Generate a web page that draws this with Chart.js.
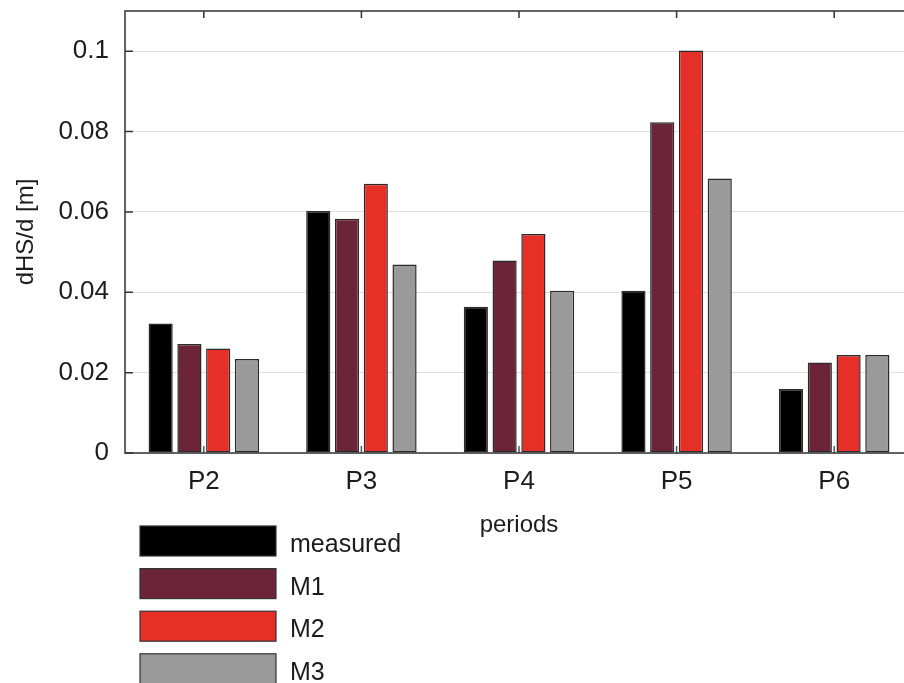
<!DOCTYPE html>
<html>
<head>
<meta charset="utf-8">
<script src="https://cdn.jsdelivr.net/npm/chart.js@4"></script>
<style>
  html, body { margin: 0; padding: 0; background: #fff; overflow: hidden; }
  #wrap { width: 916px; height: 683px; position: relative; }
</style>
</head>
<body>
<div id="wrap"><canvas id="c"></canvas></div>
<script>
const categories = ['P2', 'P3', 'P4', 'P5', 'P6'];
const seriesNames = ['measured', 'M1', 'M2', 'M3'];
const measured = [0.0322, 0.0602, 0.0364, 0.0404, 0.0159];
const m1 = [0.0271, 0.0583, 0.0479, 0.0823, 0.0225];
const m2 = [0.0260, 0.0670, 0.0545, 0.1002, 0.0244];
const m3 = [0.0234, 0.0469, 0.0404, 0.0683, 0.0244];
const yTicks = [0, 0.02, 0.04, 0.06, 0.08, 0.1];
const yTickLabels = ['0', '0.02', '0.04', '0.06', '0.08', '0.1'];
const yTitle = 'dHS/d [m]';
const xTitle = 'periods';

const FONT = 'Liberation Sans, Arial, Helvetica, sans-serif';
const colors = ['#000000', '#6c2538', '#e62f27', '#9a9a9a'];
const values = [measured, m1, m2, m3];

const framePlugin = {
  id: 'frame',
  beforeDatasetsDraw(chart) {
    const {ctx, chartArea: a, scales: {x}} = chart;
    ctx.save();
    ctx.strokeStyle = '#555';
    ctx.lineWidth = 1.5;
    ctx.beginPath();
    categories.forEach((c, i) => {
      const px = x.getPixelForTick(i);
      ctx.moveTo(px, a.bottom);
      ctx.lineTo(px, a.bottom - 7);
    });
    ctx.stroke();
    ctx.restore();
  },
  afterDraw(chart) {
    const {ctx, chartArea: a, scales: {x, y}} = chart;
    ctx.save();
    ctx.strokeStyle = '#333';
    ctx.lineWidth = 1.5;
    ctx.strokeRect(a.left, a.top, a.right - a.left, a.bottom - a.top);
    ctx.beginPath();
    yTicks.forEach(v => {
      const py = y.getPixelForValue(v);
      ctx.moveTo(a.left, py);
      ctx.lineTo(a.left + 8, py);
    });
    categories.forEach((c, i) => {
      const px = x.getPixelForTick(i);
      ctx.moveTo(px, a.top);
      ctx.lineTo(px, a.top + 7);
    });
    ctx.stroke();

    // legend (vertical list, below axis)
    const left = 140, boxW = 136, boxH = 30, step = 42.6;
    const top0 = a.bottom + 73;
    ctx.font = '25px ' + FONT;
    ctx.textBaseline = 'alphabetic';
    ctx.textAlign = 'left';
    chart.data.datasets.forEach((ds, i) => {
      const t = top0 + i * step;
      ctx.fillStyle = ds.backgroundColor;
      ctx.fillRect(left, t, boxW, boxH);
      ctx.strokeStyle = '#333';
      ctx.lineWidth = 1.2;
      ctx.strokeRect(left, t, boxW, boxH);
      ctx.fillStyle = '#1c1c1c';
      ctx.fillText(ds.label, left + 150, t + 26);
    });
    ctx.restore();
  }
};

new Chart(document.getElementById('c'), {
  type: 'bar',
  data: {
    labels: categories,
    datasets: seriesNames.map((n, i) => ({
      label: n,
      data: values[i],
      backgroundColor: colors[i],
      borderColor: '#2a2a2a',
      borderWidth: 1.5,
      borderSkipped: false,
      categoryPercentage: 0.73,
      barPercentage: 0.84
    }))
  },
  options: {
    responsive: true,
    maintainAspectRatio: false,
    animation: false,
    devicePixelRatio: 1,
    layout: { padding: { top: 11, right: 3, bottom: 143, left: 0 } },
    plugins: { legend: { display: false }, tooltip: { enabled: false } },
    scales: {
      x: {
        afterFit(scale) { scale.paddingLeft = 0; scale.paddingRight = 0; },
        grid: { display: false, drawTicks: false },
        border: { display: false },
        ticks: { color: '#1c1c1c', font: { family: FONT, size: 26 }, padding: 13, maxRotation: 0 },
        title: { display: true, text: xTitle, color: '#1c1c1c', font: { family: FONT, size: 24 }, padding: { top: 1, bottom: 0 } }
      },
      y: {
        min: 0,
        max: 0.11,
        afterFit(scale) { scale.width = 125; scale.paddingTop = 0; scale.paddingBottom = 0; },
        afterBuildTicks(scale) { scale.ticks = yTicks.map(v => ({ value: v })); },
        grid: { color: '#e2e2e2', lineWidth: 1, drawTicks: false },
        border: { display: false },
        ticks: {
          color: '#1c1c1c',
          font: { family: FONT, size: 26 },
          padding: 16,
          callback: (v, i) => yTickLabels[yTicks.indexOf(v)] ?? ''
        },
        title: { display: true, text: yTitle, color: '#1c1c1c', font: { family: FONT, size: 24 }, padding: { top: 12, bottom: 0 } }
      }
    }
  },
  plugins: [framePlugin]
});
</script>
</body>
</html>
